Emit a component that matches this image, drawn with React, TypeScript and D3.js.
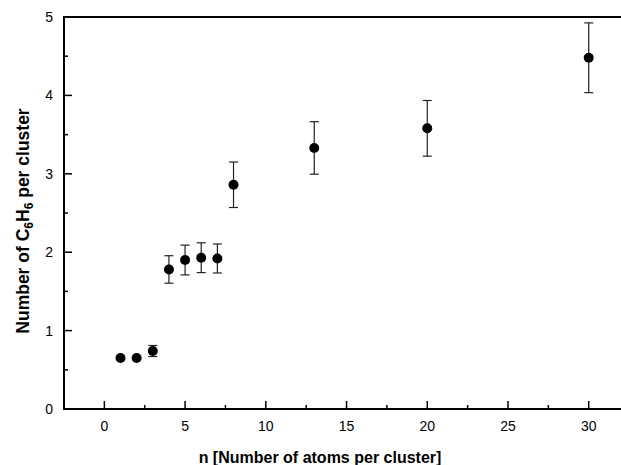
import React from "react";
import * as d3 from "d3";

const nValues = [1, 2, 3, 4, 5, 6, 7, 8, 13, 20, 30];
const benzene = [0.65, 0.65, 0.74, 1.78, 1.9, 1.93, 1.92, 2.86, 3.33, 3.58, 4.48];
const errors = [0, 0, 0.07, 0.175, 0.19, 0.19, 0.185, 0.29, 0.335, 0.355, 0.445];
const xMajorTicks = [0, 5, 10, 15, 20, 25, 30];
const xMinorTicks = [2.5, 7.5, 12.5, 17.5, 22.5, 27.5];
const yMajorTicks = [0, 1, 2, 3, 4, 5];
const yMinorTicks = [0.5, 1.5, 2.5, 3.5, 4.5];

const W = 621;
const H = 465;
const left = 64;
const right = 621;
const top = 17;
const bottom = 409;
const font = "'Liberation Sans', Arial, Helvetica, sans-serif";

export default function App() {
  const x = d3.scaleLinear().domain([-2.5, 32]).range([left, right]);
  const y = d3.scaleLinear().domain([0, 5]).range([bottom, top]);

  return (
    <svg
      width={W}
      height={H}
      style={{ position: "absolute", left: 0, top: 0, background: "#fff" }}
      fontFamily={font}
    >
      <rect x={0} y={0} width={W} height={H} fill="#fff" />
      {/* frame */}
      <line x1={left} y1={top} x2={right} y2={top} stroke="#000" strokeWidth={2.2} />
      <line x1={left} y1={top - 1} x2={left} y2={bottom + 1} stroke="#000" strokeWidth={2} />
      <line x1={left - 1} y1={bottom} x2={right} y2={bottom} stroke="#000" strokeWidth={2} />

      {/* x ticks */}
      {xMajorTicks.map((t) => (
        <g key={"xm" + t}>
          <line x1={x(t)} x2={x(t)} y1={bottom} y2={bottom - 8} stroke="#000" strokeWidth={1.5} />
          <text x={x(t)} y={431} textAnchor="middle" fontSize={14} fill="#000">
            {t}
          </text>
        </g>
      ))}
      {xMinorTicks.map((t) => (
        <line key={"xn" + t} x1={x(t)} x2={x(t)} y1={bottom} y2={bottom - 4} stroke="#000" strokeWidth={1.5} />
      ))}

      {/* y ticks */}
      {yMajorTicks.map((t) => (
        <g key={"ym" + t}>
          <line x1={left} x2={left + 8} y1={y(t)} y2={y(t)} stroke="#000" strokeWidth={1.5} />
          <text x={53} y={y(t) + 5} textAnchor="end" fontSize={14} fill="#000">
            {t}
          </text>
        </g>
      ))}
      {yMinorTicks.map((t) => (
        <line key={"yn" + t} x1={left} x2={left + 4} y1={y(t)} y2={y(t)} stroke="#000" strokeWidth={1.5} />
      ))}

      {/* error bars */}
      {nValues.map((n, i) =>
        errors[i] > 0 ? (
          <g key={"e" + n} stroke="#222" strokeWidth={1.2}>
            <line x1={x(n)} x2={x(n)} y1={y(benzene[i] + errors[i])} y2={y(benzene[i] - errors[i])} />
            <line x1={x(n) - 4.5} x2={x(n) + 4.5} y1={y(benzene[i] + errors[i])} y2={y(benzene[i] + errors[i])} />
            <line x1={x(n) - 4.5} x2={x(n) + 4.5} y1={y(benzene[i] - errors[i])} y2={y(benzene[i] - errors[i])} />
          </g>
        ) : null
      )}

      {/* points */}
      {nValues.map((n, i) => (
        <circle key={"p" + n} cx={x(n)} cy={y(benzene[i])} r={5} fill="#000" />
      ))}

      {/* x label */}
      <text x={320} y={463} textAnchor="middle" fontSize={16} fontWeight="bold" fill="#000">
        n [Number of atoms per cluster]
      </text>

      {/* y label */}
      <text
        transform={`translate(29,221) rotate(-90)`}
        textAnchor="middle"
        fontSize={17.5}
        fontWeight="bold"
        fill="#000"
      >
        Number of C
        <tspan fontSize={12} dy={4}>6</tspan>
        <tspan dy={-4}>H</tspan>
        <tspan fontSize={12} dy={4}>6</tspan>
        <tspan dy={-4}> per cluster</tspan>
      </text>
    </svg>
  );
}
